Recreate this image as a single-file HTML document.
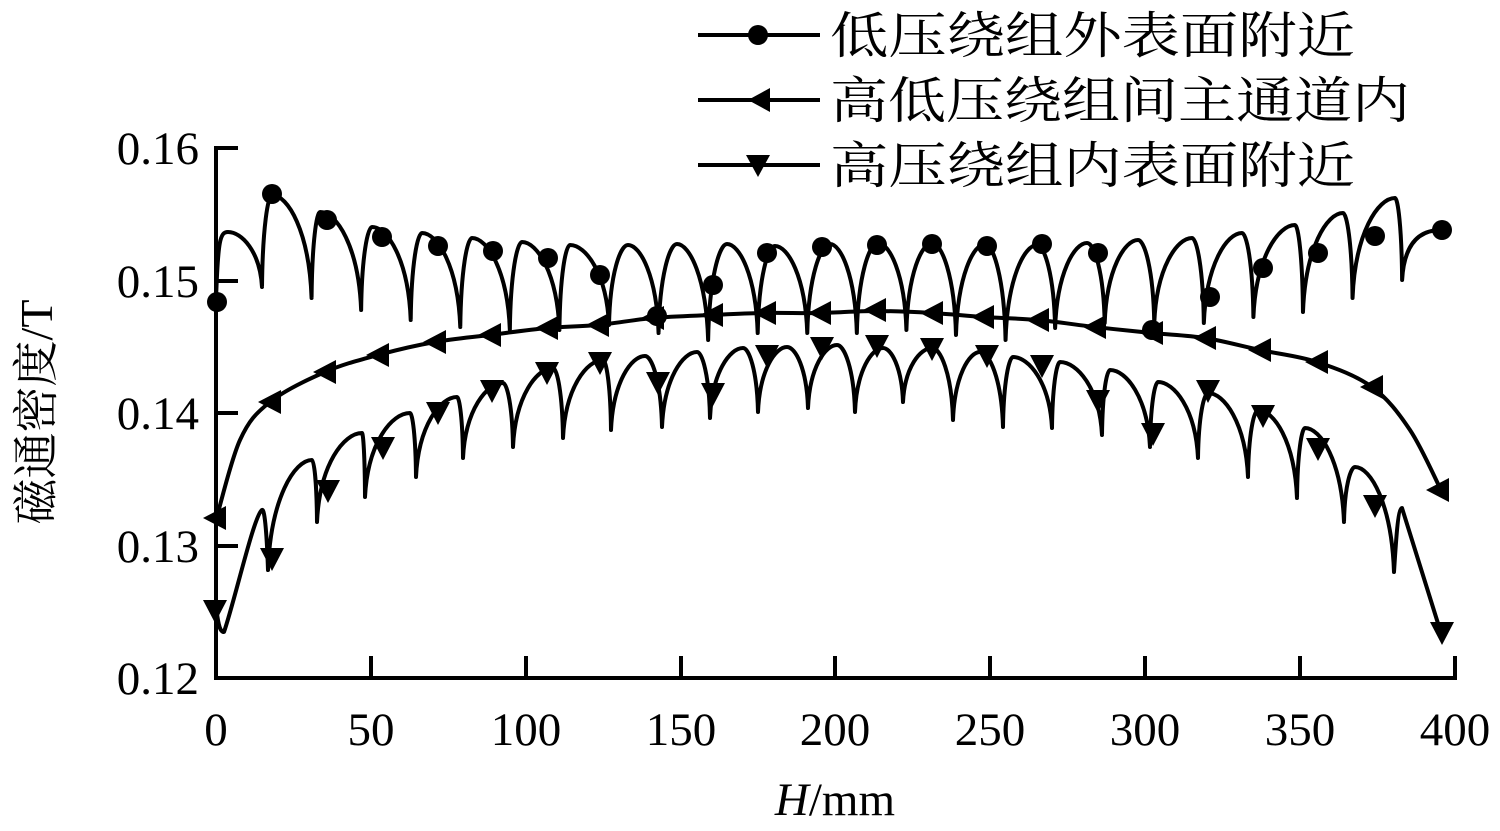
<!DOCTYPE html>
<html><head><meta charset="utf-8"><style>
html,body{margin:0;padding:0;background:#fff;}
svg{display:block;}
</style></head><body>
<svg id="c" width="1500" height="831" viewBox="0 0 1500 831" xmlns="http://www.w3.org/2000/svg">
<g stroke="#000" stroke-width="4" fill="none">
<line x1="216" y1="146" x2="216" y2="680"/>
<line x1="214" y1="678" x2="1457" y2="678"/>
<line x1="216" y1="148" x2="238" y2="148"/>
<line x1="216" y1="281" x2="238" y2="281"/>
<line x1="216" y1="413" x2="238" y2="413"/>
<line x1="216" y1="546" x2="238" y2="546"/>
<line x1="371" y1="678" x2="371" y2="656"/>
<line x1="526" y1="678" x2="526" y2="656"/>
<line x1="681" y1="678" x2="681" y2="656"/>
<line x1="835" y1="678" x2="835" y2="656"/>
<line x1="990" y1="678" x2="990" y2="656"/>
<line x1="1145" y1="678" x2="1145" y2="656"/>
<line x1="1300" y1="678" x2="1300" y2="656"/>
<line x1="1455" y1="678" x2="1455" y2="656"/>
</g>
<g font-family="'Liberation Serif', serif" font-size="47" fill="#000">
<text x="199" y="164" text-anchor="end">0.16</text>
<text x="199" y="297" text-anchor="end">0.15</text>
<text x="199" y="429" text-anchor="end">0.14</text>
<text x="199" y="562" text-anchor="end">0.13</text>
<text x="199" y="694" text-anchor="end">0.12</text>
<g text-anchor="middle">
<text x="216" y="745">0</text><text x="371" y="745">50</text><text x="526" y="745">100</text>
<text x="681" y="745">150</text><text x="835" y="745">200</text><text x="990" y="745">250</text>
<text x="1145" y="745">300</text><text x="1300" y="745">350</text><text x="1455" y="745">400</text>
</g>
<text x="835" y="815" text-anchor="middle"><tspan font-style="italic">H</tspan>/mm</text>
</g>
<text transform="translate(52,412) rotate(-90)" text-anchor="middle" font-family="'Liberation Serif','Noto Serif CJK SC',serif" font-size="46" fill="#000">磁通密度/T</text>
<g font-family="'Noto Serif CJK SC','Noto Sans CJK SC',serif" font-size="50" fill="#000">
<text x="830" y="53" textLength="525" lengthAdjust="spacingAndGlyphs">低压绕组外表面附近</text>
<text x="830" y="118" textLength="580" lengthAdjust="spacingAndGlyphs">高低压绕组间主通道内</text>
<text x="830" y="183" textLength="525" lengthAdjust="spacingAndGlyphs">高压绕组内表面附近</text>
</g>
<g stroke="#000" stroke-width="4" fill="none">
<line x1="698" y1="35" x2="820" y2="35"/>
<line x1="698" y1="100" x2="820" y2="100"/>
<line x1="698" y1="165" x2="820" y2="165"/>
</g>
<circle cx="758" cy="35" r="10" fill="#000"/>
<polygon points="748,100 770,88 770,112" fill="#000"/>
<polygon points="746,155 770,155 758,177" fill="#000"/>
<g id="series"></g>
</svg>
<script>
var NS="http://www.w3.org/2000/svg";
var g=document.getElementById("series");
function path(d){var p=document.createElementNS(NS,"path");p.setAttribute("d",d);p.setAttribute("stroke","#000");p.setAttribute("stroke-width","4");p.setAttribute("fill","none");p.setAttribute("stroke-linejoin","round");g.appendChild(p);}
function rise(a,p){var dx=p[0]-a[0];return " C"+(a[0]+dx*0.06)+","+(a[1]+(p[1]-a[1])*0.65)+" "+(p[0]-dx*0.4)+","+p[1]+" "+p[0]+","+p[1];}
function fall(p,b){var dx=b[0]-p[0];return " C"+(p[0]+dx*0.4)+","+p[1]+" "+(b[0]-dx*0.06)+","+(b[1]-(b[1]-p[1])*0.65)+" "+b[0]+","+b[1];}
var cdy=[287,298,310,320,327,330,330,325,333,340,333,333,333,330,335,340,328,323,323,323,317,312,298,280];
var cdx=[];for(var k=0;k<24;k++)cdx.push(262+49.57*k);
var cpk=[[272,195],[320,212],[372,227],[422,233],[472,238],[522,242],[570,245],[628,245],[677,244],[727,244],[775,246],[830,244],[878,243],[932,243],[985,244],[1037,245],[1087,243],[1138,240],[1192,238],[1242,233],[1295,225],[1343,213],[1395,198]];
var d="M216,300 C218,240 220,232 228,232"+fall([228,232],[cdx[0],cdy[0]]);
for(var k=0;k<23;k++){var a=[cdx[k],cdy[k]],b=[cdx[k+1],cdy[k+1]];d+=rise(a,cpk[k])+fall(cpk[k],b);}
d+=" C1404,245 1418,230 1441,230";
path(d);
var tdx=[268,317,365,416,463,513,563,611,662,710,758,808,855,903,953,1003,1052,1102,1150,1198,1248,1297,1344,1394];
var tdy=[570,522,497,477,458,447,438,430,427,418,412,408,412,402,420,427,428,435,447,458,477,498,522,572];
var tpk=[[312,460],[362,433],[410,413],[457,397],[503,383],[553,368],[603,360],[645,356],[697,352],[743,348],[787,347],[837,345],[883,348],[932,348],[980,352],[1013,357],[1060,362],[1110,370],[1158,382],[1208,393],[1258,410],[1305,428],[1355,467]];
d="M216,605 C218,625 220,632 224,632 C235,600 254,515 262,510 C265,508 267,540 268,570";
for(var k=0;k<23;k++){var a=[tdx[k],tdy[k]],b=[tdx[k+1],tdy[k+1]];d+=rise(a,tpk[k])+fall(tpk[k],b);}
d+=" C1396,540 1398,508 1402,508 L1441,633";
path(d);
var lp=[[216,520],[240,440],[270,402],[325,372],[378,355],[435,342],[490,335],[547,328],[598,325],[653,318],[712,315],[765,313],[820,313],[875,311],[932,313],[983,317],[1038,320],[1095,327],[1152,333],[1205,338],[1260,350],[1317,362],[1372,387],[1410,430],[1441,490]];
d="M"+lp[0][0]+","+lp[0][1];
for(var i=0;i<lp.length-1;i++){var p0=lp[Math.max(0,i-1)],p1=lp[i],p2=lp[i+1],p3=lp[Math.min(lp.length-1,i+2)];
d+=" C"+(p1[0]+(p2[0]-p0[0])/6)+","+(p1[1]+(p2[1]-p0[1])/6)+" "+(p2[0]-(p3[0]-p1[0])/6)+","+(p2[1]-(p3[1]-p1[1])/6)+" "+p2[0]+","+p2[1];}
path(d);
function el(n,attrs){var e=document.createElementNS(NS,n);for(var k in attrs)e.setAttribute(k,attrs[k]);e.setAttribute("fill","#000");g.appendChild(e);}
var cm=[[217,302],[272,194],[327,220],[382,237],[438,246],[493,251],[548,258],[600,275],[657,316],[713,285],[767,253],[822,247],[877,245],[932,244],[987,246],[1042,244],[1098,253],[1152,330],[1210,297],[1263,268],[1318,253],[1375,236],[1442,230]];
cm.forEach(function(p){el("circle",{cx:p[0],cy:p[1],r:10});});
var lm=[[215,518],[270,402],[325,372],[378,355],[435,342],[490,335],[547,328],[598,325],[653,318],[712,315],[765,313],[820,313],[875,310],[932,313],[983,317],[1038,320],[1095,327],[1152,333],[1205,338],[1260,350],[1317,362],[1372,387],[1438,490]];
lm.forEach(function(p){var x=p[0],y=p[1];el("polygon",{points:(x-12)+","+y+" "+(x+11)+","+(y-12)+" "+(x+11)+","+(y+12)});});
var dm=[[215,610],[272,558],[328,490],[383,447],[438,412],[492,390],[547,372],[600,362],[658,382],[713,393],[767,355],[822,347],[877,345],[932,348],[987,355],[1042,365],[1098,400],[1153,433],[1208,390],[1263,415],[1318,448],[1375,505],[1442,632]];
dm.forEach(function(p){var x=p[0],y=p[1];el("polygon",{points:(x-12)+","+(y-10)+" "+(x+12)+","+(y-10)+" "+x+","+(y+13)});});
</script>
</body></html>
